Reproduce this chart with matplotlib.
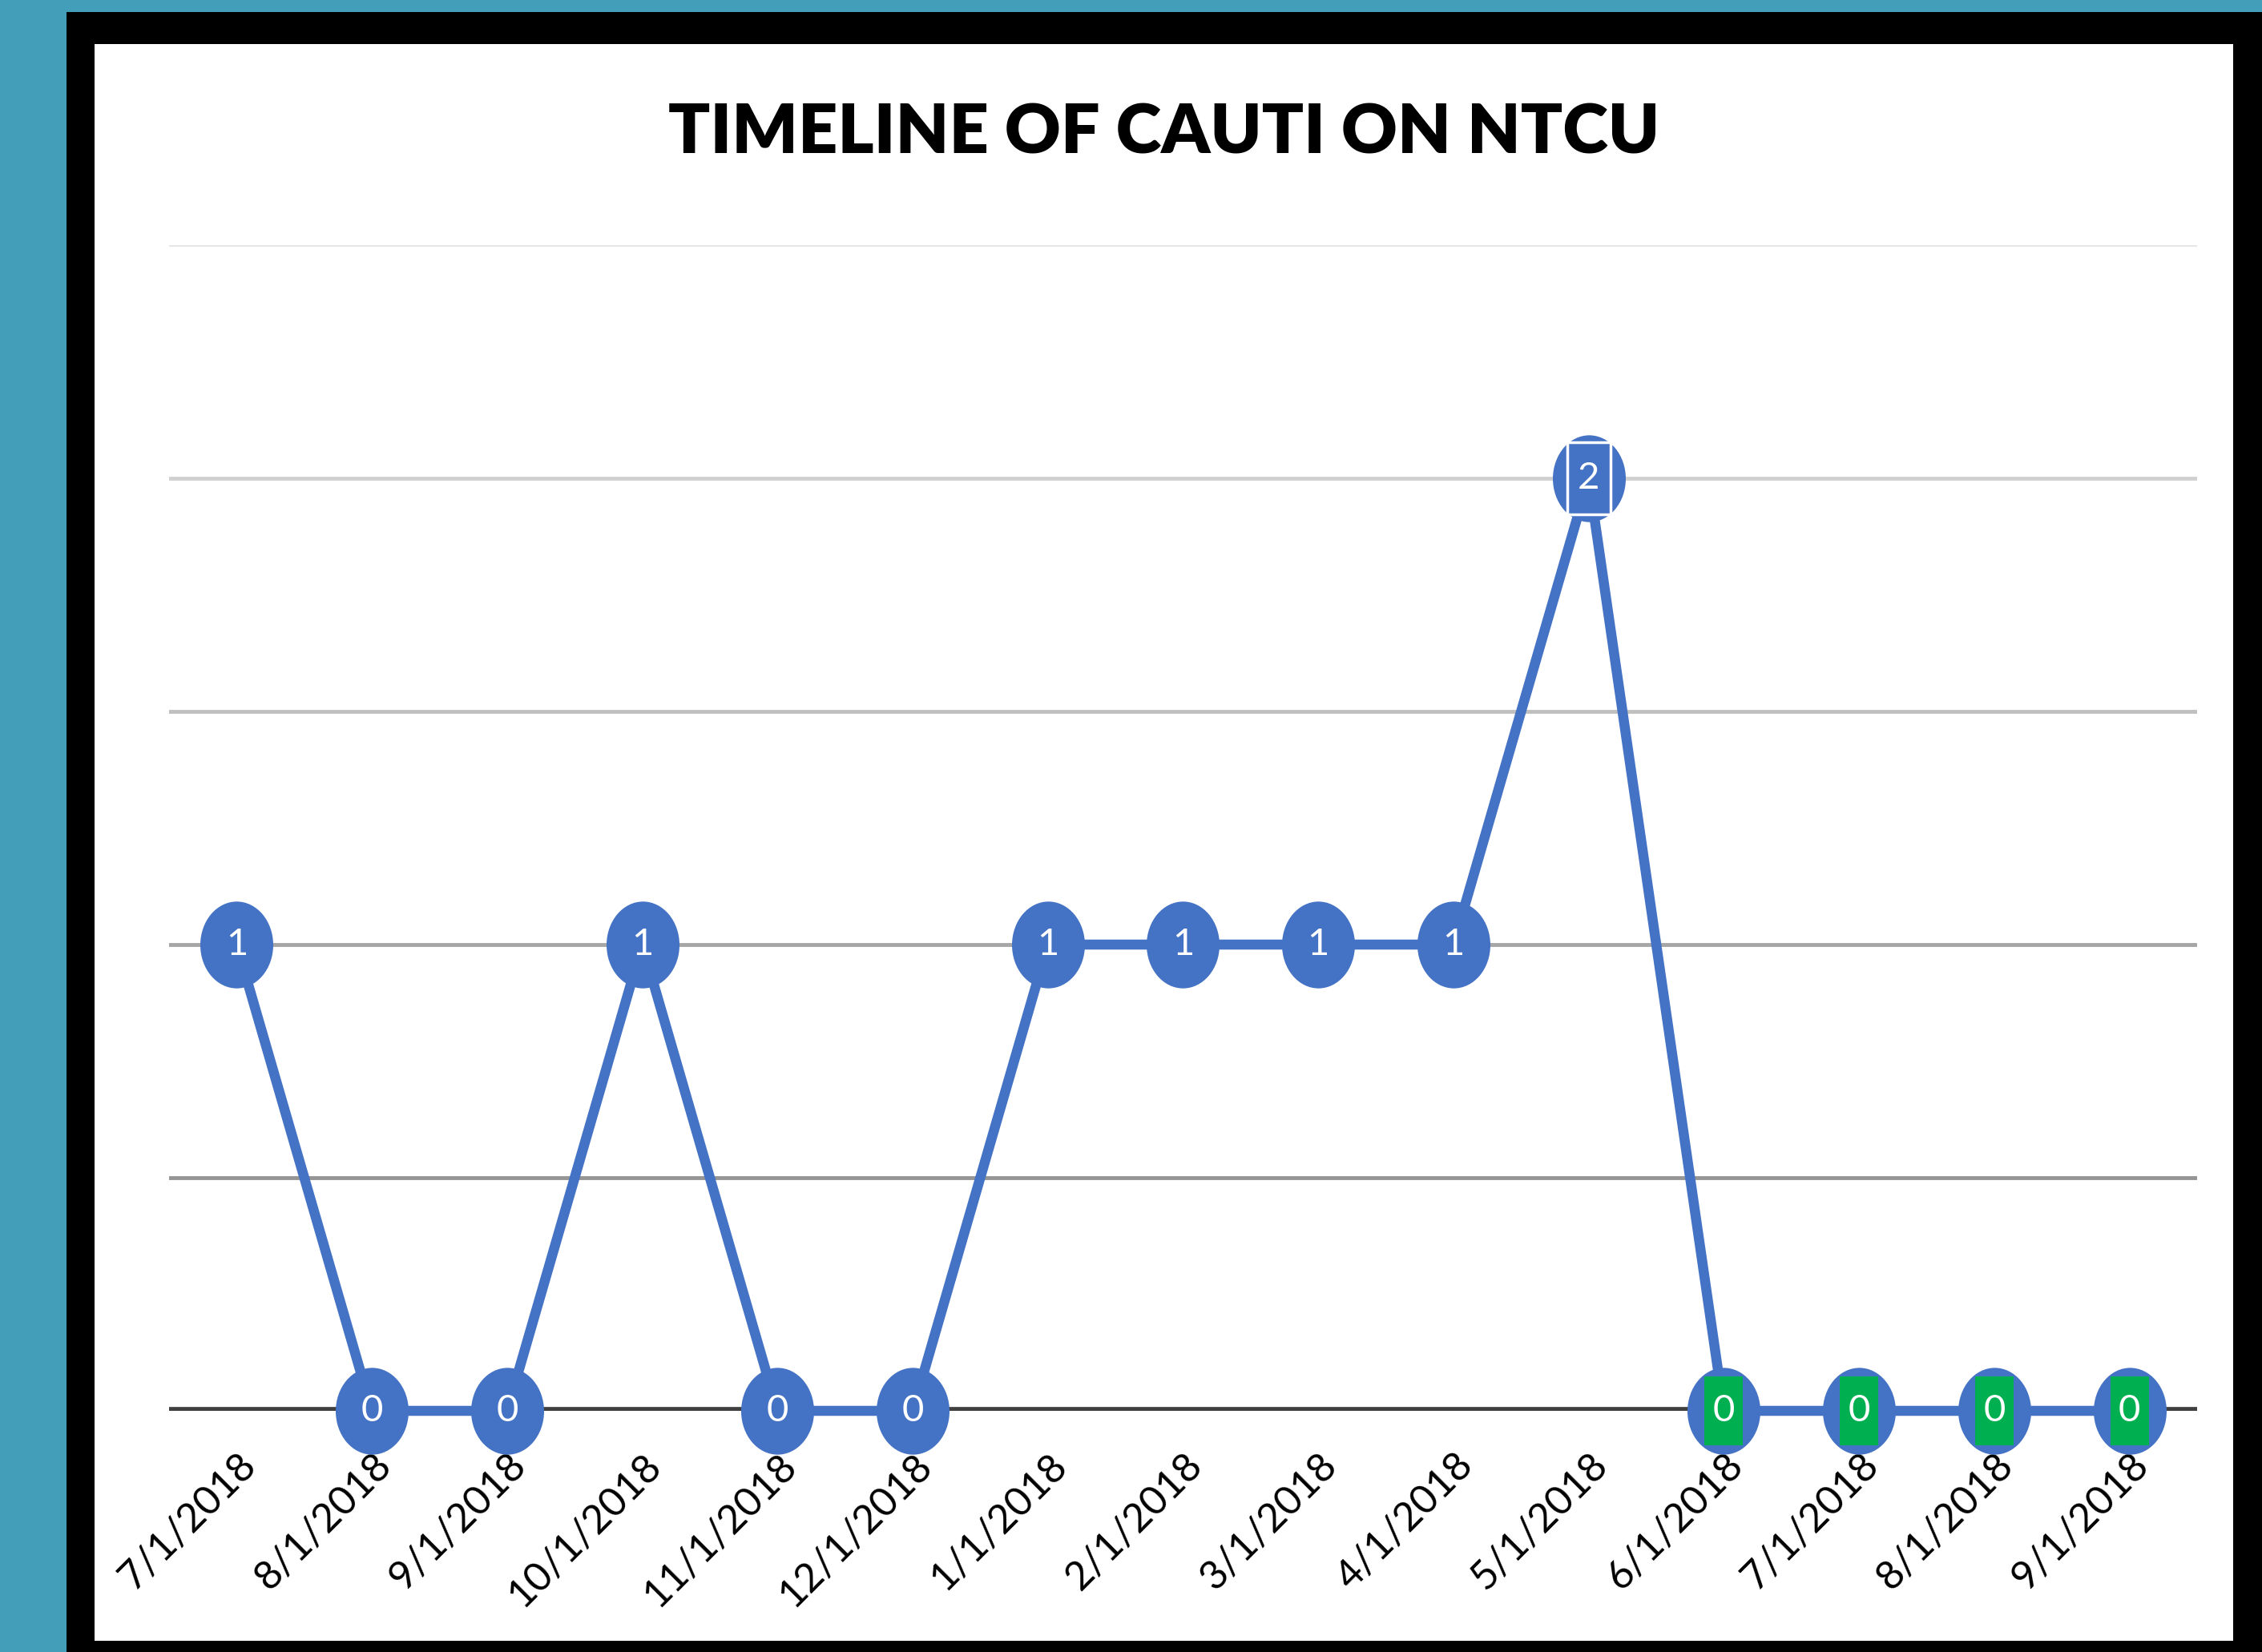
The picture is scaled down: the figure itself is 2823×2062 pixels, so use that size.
import numpy as np
import matplotlib
matplotlib.use("Agg")
import matplotlib.pyplot as plt
from matplotlib.path import Path
from matplotlib.patches import Rectangle

plt.rcParams['font.family'] = ['Lato', 'DejaVu Sans']

# data
months = ["7/1/2018", "8/1/2018", "9/1/2018", "10/1/2018", "11/1/2018",
          "12/1/2018", "1/1/2018", "2/1/2018", "3/1/2018", "4/1/2018",
          "5/1/2018", "6/1/2018", "7/1/2018", "8/1/2018", "9/1/2018"]
cauti = [1, 0, 0, 1, 0, 0, 1, 1, 1, 1, 2, 0, 0, 0, 0]
green_months = 4    # last four points have green label boxes
yticks = [0, 0.5, 1, 1.5, 2, 2.5]

BLUE = "#4472C4"
GREEN = "#00B050"
TEAL = "#429EB9"
grid_colors = ["#404040", "#959595", "#a6a6a6", "#c0c0c0", "#d0d0d0", "#e6e6e6"]
grid_widths = [7, 3.5, 3.5, 3.5, 3.5, 3]

W, H = 2823, 2062
fig = plt.figure(figsize=(W/100, H/100), dpi=100)
fig.patch.set_facecolor(TEAL)

# black frame and white panel
fig.patches.append(Rectangle((83/W, 0), 1 - 83/W, 1 - 15/H, transform=fig.transFigure,
                             facecolor="black", edgecolor="none", zorder=-2))
fig.patches.append(Rectangle((118/W, 14/H), (2787-118)/W, (2048-55)/H, transform=fig.transFigure,
                             facecolor="white", edgecolor="none", zorder=-1))

ax = fig.add_axes([211/W, 1 - 1761/H, (2742-211)/W, (1761-306)/H])
ax.set_facecolor("none")
ax.set_zorder(2)

x = np.arange(len(months))
n = len(cauti)

for yv, c, lw in zip(yticks, grid_colors, grid_widths):
    ax.axhline(yv, color=c, lw=lw, zorder=1)

# elliptical marker + tall box marker for highlighted labels
circ = Path.unit_circle()
ell = Path(circ.vertices * np.array([0.84, 1.0]), circ.codes)
def box_marker(w):
    return Path([(-w/2, -0.5), (w/2, -0.5), (w/2, 0.5), (-w/2, 0.5), (-w/2, -0.5)],
                [Path.MOVETO, Path.LINETO, Path.LINETO, Path.LINETO, Path.CLOSEPOLY])

ax.plot(x, cauti, color=BLUE, lw=9, marker=ell, markersize=78,
        markerfacecolor=BLUE, markeredgecolor=BLUE, markeredgewidth=0,
        zorder=3, clip_on=False)

peak = int(np.argmax(cauti))
ax.plot([x[peak]], [cauti[peak]], ls="none", marker=box_marker(0.6), markersize=65,
        markerfacecolor=BLUE, markeredgecolor="white", markeredgewidth=2.5, zorder=4)
ax.plot(x[n - green_months:], cauti[n - green_months:], ls="none",
        marker=box_marker(0.55), markersize=62, markerfacecolor=GREEN,
        markeredgewidth=0, zorder=4, clip_on=False)

for i, v in enumerate(cauti):
    ax.text(i, v, str(v), color="white", fontsize=34, ha="center", va="center",
            zorder=5)

ax.set_xlim(-0.5, n - 0.5)
ax.set_ylim(0, 2.5)
ax.set_xticks(x)
ax.set_xticklabels(months, rotation=45, ha="right", rotation_mode="anchor",
                   fontsize=36, color="black")
ax.set_yticks([])
ax.tick_params(axis="x", length=0, pad=32)
for s in ax.spines.values():
    s.set_visible(False)

fig.text(1453/W, 1 - 166/H, "TIMELINE OF CAUTI ON NTCU", fontsize=62,
         fontweight="heavy", ha="center", va="center", color="black")

fig.savefig("out.png", dpi=100, facecolor=fig.get_facecolor())
